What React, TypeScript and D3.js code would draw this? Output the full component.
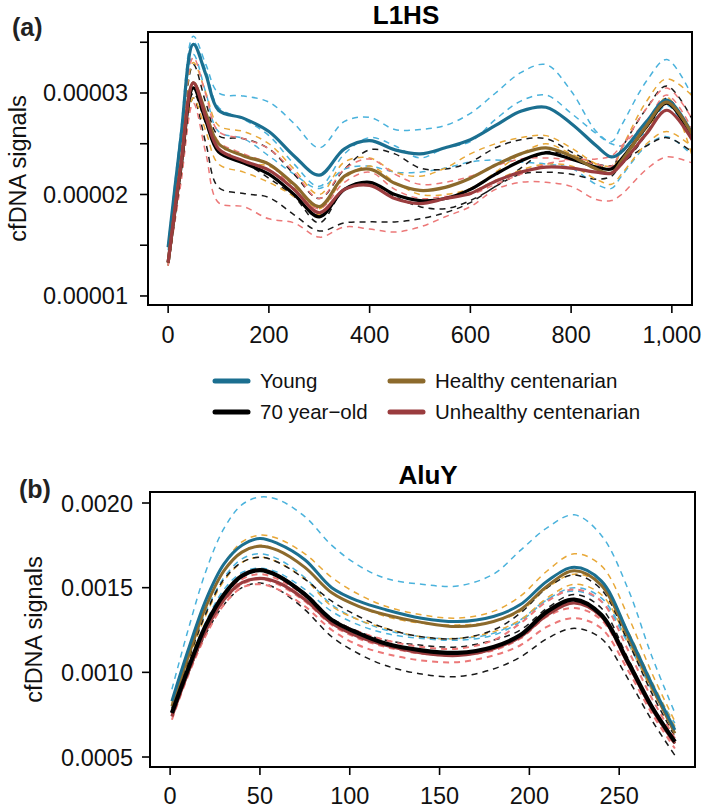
import React from "react";
import * as d3 from "d3";

// ---------- Panel (a) L1HS : values in units of 1e-5 ----------
const XA = [0, 25, 50, 75, 100, 150, 200, 250, 300, 350, 400, 450, 500, 550, 600, 650, 700, 750, 800, 850, 880, 900, 950, 990, 1045];

const youngA = [1.48, 2.55, 3.48, 3.18, 2.83, 2.75, 2.62, 2.38, 2.19, 2.45, 2.53, 2.44, 2.40, 2.46, 2.54, 2.68, 2.82, 2.86, 2.70, 2.48, 2.37, 2.42, 2.72, 2.93, 2.55];
const oldA = [1.33, 2.25, 3.05, 2.72, 2.42, 2.31, 2.20, 2.00, 1.78, 2.05, 2.12, 2.00, 1.94, 1.96, 2.05, 2.20, 2.33, 2.41, 2.35, 2.27, 2.25, 2.35, 2.67, 2.90, 2.52];
const healthyA = [1.33, 2.28, 3.10, 2.80, 2.50, 2.38, 2.30, 2.10, 1.88, 2.18, 2.25, 2.11, 2.04, 2.07, 2.16, 2.29, 2.40, 2.46, 2.38, 2.25, 2.21, 2.33, 2.68, 2.91, 2.55];
const unhealthyA = [1.33, 2.28, 3.10, 2.76, 2.45, 2.33, 2.24, 2.05, 1.82, 2.05, 2.09, 1.96, 1.91, 1.96, 2.01, 2.13, 2.22, 2.27, 2.26, 2.22, 2.21, 2.30, 2.60, 2.83, 2.50];

const youngA_i1 = [1.50, 2.62, 3.56, 3.28, 3.00, 2.97, 2.91, 2.70, 2.46, 2.72, 2.76, 2.64, 2.64, 2.68, 2.80, 3.00, 3.20, 3.28, 3.02, 2.62, 2.52, 2.68, 3.12, 3.33, 2.92];
const youngA_i2 = [1.45, 2.50, 3.38, 3.00, 2.62, 2.55, 2.38, 2.20, 2.06, 2.25, 2.28, 2.22, 2.22, 2.26, 2.32, 2.34, 2.32, 2.30, 2.26, 2.10, 2.06, 2.18, 2.48, 2.57, 2.36];
const youngA_i3 = [1.48, 2.56, 3.50, 3.22, 2.86, 2.74, 2.58, 2.30, 2.08, 2.40, 2.56, 2.48, 2.36, 2.46, 2.52, 2.74, 2.92, 2.98, 2.80, 2.60, 2.50, 2.48, 2.62, 2.88, 2.48];

const oldA_i1 = [1.35, 2.40, 3.28, 2.90, 2.58, 2.55, 2.45, 2.20, 1.96, 2.25, 2.44, 2.40, 2.26, 2.25, 2.32, 2.46, 2.54, 2.55, 2.42, 2.30, 2.26, 2.45, 2.85, 3.07, 2.70];
const oldA_i2 = [1.30, 2.15, 2.95, 2.50, 2.07, 2.01, 1.97, 1.80, 1.64, 1.72, 1.73, 1.73, 1.76, 1.82, 1.92, 2.08, 2.20, 2.22, 2.20, 2.15, 2.18, 2.30, 2.48, 2.56, 2.40];
const oldA_i3 = [1.33, 2.22, 3.00, 2.70, 2.45, 2.32, 2.16, 1.98, 1.72, 2.05, 2.12, 1.98, 1.88, 1.86, 1.94, 2.08, 2.26, 2.42, 2.38, 2.30, 2.28, 2.30, 2.60, 2.95, 2.50];

const healthyA_i1 = [1.35, 2.40, 3.30, 3.00, 2.68, 2.62, 2.50, 2.25, 2.00, 2.32, 2.36, 2.22, 2.18, 2.26, 2.40, 2.50, 2.56, 2.58, 2.46, 2.30, 2.25, 2.45, 2.92, 3.14, 2.95];
const healthyA_i2 = [1.30, 2.18, 2.95, 2.62, 2.30, 2.22, 2.12, 1.98, 1.80, 2.05, 2.10, 2.00, 1.94, 1.96, 2.02, 2.14, 2.24, 2.30, 2.28, 2.15, 2.10, 2.20, 2.50, 2.62, 2.45];
const healthyA_i3 = [1.33, 2.26, 3.05, 2.78, 2.52, 2.30, 2.28, 2.08, 1.86, 2.16, 2.28, 2.12, 2.00, 2.00, 2.06, 2.22, 2.40, 2.50, 2.40, 2.30, 2.28, 2.36, 2.62, 2.96, 2.30];

const unhealthyA_i1 = [1.35, 2.45, 3.35, 2.98, 2.62, 2.55, 2.45, 2.22, 1.96, 2.25, 2.35, 2.20, 2.10, 2.12, 2.18, 2.28, 2.35, 2.36, 2.34, 2.30, 2.28, 2.45, 2.85, 3.05, 2.70];
const unhealthyA_i2 = [1.30, 2.10, 2.90, 2.40, 1.92, 1.88, 1.76, 1.72, 1.58, 1.68, 1.66, 1.63, 1.68, 1.78, 1.88, 2.05, 2.12, 2.12, 2.08, 1.95, 1.94, 2.00, 2.25, 2.37, 2.30];
const unhealthyA_i3 = [1.33, 2.28, 3.10, 2.80, 2.52, 2.40, 2.30, 2.05, 1.86, 2.12, 2.22, 2.05, 1.96, 1.98, 2.00, 2.10, 2.20, 2.30, 2.34, 2.35, 2.38, 2.48, 2.72, 2.98, 2.60];

const xTicksA = [0, 200, 400, 600, 800, 1000];
const xTickLabelsA = ["0", "200", "400", "600", "800", "1,000"];
const yTicksA = [1, 1.5, 2, 2.5, 3, 3.5];
const yTickLabelsA = ["0.00001", "", "0.00002", "", "0.00003", ""];

// ---------- Panel (b) AluY : values in units of 1e-3 ----------
const XB = [1, 10, 20, 30, 40, 50, 60, 75, 90, 105, 120, 140, 160, 180, 195, 210, 225, 240, 255, 268, 281];

const youngB = [0.83, 1.13, 1.43, 1.64, 1.75, 1.79, 1.76, 1.665, 1.50, 1.42, 1.37, 1.32, 1.30, 1.33, 1.40, 1.54, 1.62, 1.54, 1.23, 0.935, 0.66];
const healthyB = [0.80, 1.09, 1.39, 1.60, 1.71, 1.745, 1.72, 1.62, 1.47, 1.39, 1.34, 1.295, 1.27, 1.30, 1.37, 1.51, 1.60, 1.515, 1.21, 0.92, 0.64];
const oldB = [0.76, 1.02, 1.28, 1.46, 1.57, 1.604, 1.57, 1.46, 1.31, 1.23, 1.17, 1.13, 1.115, 1.15, 1.22, 1.36, 1.43, 1.34, 1.06, 0.80, 0.59];
const unhealthyB = [0.74, 1.00, 1.25, 1.43, 1.53, 1.555, 1.53, 1.43, 1.29, 1.21, 1.16, 1.115, 1.10, 1.14, 1.21, 1.34, 1.41, 1.33, 1.05, 0.79, 0.58];

const youngB_i1 = [0.90, 1.25, 1.60, 1.85, 1.99, 2.035, 2.02, 1.92, 1.75, 1.63, 1.555, 1.52, 1.51, 1.58, 1.72, 1.855, 1.93, 1.81, 1.49, 1.10, 0.76];
const youngB_i2 = [0.80, 1.08, 1.36, 1.56, 1.67, 1.70, 1.67, 1.56, 1.40, 1.31, 1.25, 1.21, 1.20, 1.23, 1.31, 1.43, 1.48, 1.42, 1.17, 0.90, 0.68];
const youngB_i3 = [0.78, 1.04, 1.30, 1.49, 1.59, 1.615, 1.59, 1.49, 1.36, 1.28, 1.23, 1.20, 1.19, 1.22, 1.30, 1.43, 1.50, 1.44, 1.18, 0.92, 0.70];

const healthyB_i1 = [0.82, 1.12, 1.42, 1.64, 1.77, 1.81, 1.79, 1.70, 1.56, 1.46, 1.39, 1.34, 1.32, 1.36, 1.45, 1.60, 1.70, 1.63, 1.33, 1.00, 0.71];
const healthyB_i2 = [0.80, 1.09, 1.38, 1.60, 1.71, 1.75, 1.72, 1.62, 1.47, 1.39, 1.33, 1.29, 1.28, 1.30, 1.36, 1.50, 1.58, 1.52, 1.24, 0.95, 0.68];
const healthyB_i3 = [0.78, 1.06, 1.34, 1.54, 1.65, 1.68, 1.65, 1.55, 1.39, 1.31, 1.26, 1.21, 1.20, 1.24, 1.31, 1.44, 1.52, 1.46, 1.18, 0.90, 0.66];

const oldB_i1 = [0.79, 1.07, 1.35, 1.55, 1.65, 1.68, 1.65, 1.55, 1.42, 1.33, 1.26, 1.21, 1.20, 1.25, 1.35, 1.50, 1.575, 1.49, 1.18, 0.88, 0.62];
const oldB_i2 = [0.74, 0.99, 1.23, 1.40, 1.50, 1.527, 1.49, 1.37, 1.21, 1.11, 1.04, 0.99, 0.975, 1.02, 1.09, 1.20, 1.26, 1.20, 0.96, 0.72, 0.51];
const oldB_i3 = [0.76, 1.02, 1.27, 1.45, 1.56, 1.60, 1.57, 1.47, 1.32, 1.24, 1.19, 1.16, 1.15, 1.19, 1.25, 1.38, 1.46, 1.38, 1.08, 0.80, 0.58];

const unhealthyB_i1 = [0.75, 1.01, 1.27, 1.45, 1.55, 1.58, 1.55, 1.45, 1.31, 1.24, 1.19, 1.15, 1.14, 1.19, 1.29, 1.42, 1.49, 1.42, 1.13, 0.85, 0.61];
const unhealthyB_i2 = [0.74, 1.00, 1.25, 1.42, 1.52, 1.55, 1.52, 1.42, 1.28, 1.20, 1.15, 1.11, 1.10, 1.13, 1.20, 1.33, 1.38, 1.31, 1.04, 0.78, 0.57];
const unhealthyB_i3 = [0.72, 0.98, 1.22, 1.40, 1.50, 1.52, 1.49, 1.39, 1.25, 1.16, 1.11, 1.07, 1.06, 1.10, 1.16, 1.27, 1.32, 1.26, 1.01, 0.76, 0.55];

const xTicksB = [0, 50, 100, 150, 200, 250];
const xTickLabelsB = ["0", "50", "100", "150", "200", "250"];
const yTicksB = [0.5, 1.0, 1.5, 2.0];
const yTickLabelsB = ["0.0005", "0.0010", "0.0015", "0.0020"];

const groups = ["Young", "70 year\u2212old", "Healthy centenarian", "Unhealthy centenarian"];

const C = {
  young: "#1b6f90",
  old: "#000000",
  healthy: "#8c6a2c",
  unhealthy: "#9a3c3e",
  youngD: "#4ab2dc",
  oldD: "#1a1a1a",
  healthyD: "#e8a838",
  unhealthyD: "#ec7878",
};

const FONT = "'Liberation Sans', Arial, Helvetica, sans-serif";

type Series = { y: number[]; color: string; w: number; dash?: string };

function Panel(props: {
  id: string;
  xs: number[];
  xDomain: [number, number];
  yDomain: [number, number];
  box: { l: number; t: number; r: number; b: number };
  dashed: Series[];
  solid: Series[];
  xTicks: number[];
  xLabels: string[];
  yTicks: number[];
  yLabels: string[];
  title: string;
  titleX: number;
  titleY: number;
  tag: string;
  tagX: number;
  tagY: number;
  yTitleX: number;
  yLabelX: number;
  xLabelY: number;
}) {
  const { box } = props;
  const x = d3.scaleLinear().domain(props.xDomain).range([box.l, box.r]);
  const y = d3.scaleLinear().domain(props.yDomain).range([box.b, box.t]);
  const line = (vals: number[]) =>
    d3
      .line<number>()
      .x((_, i) => x(props.xs[i]))
      .y((v) => y(v))
      .curve(d3.curveCatmullRom.alpha(0.5))(vals) || "";
  const clip = `clip-${props.id}`;
  return (
    <g>
      <defs>
        <clipPath id={clip}>
          <rect x={box.l} y={box.t} width={box.r - box.l} height={box.b - box.t} />
        </clipPath>
      </defs>
      <g clipPath={`url(#${clip})`}>
        {props.dashed.map((s, i) => (
          <path key={"d" + i} d={line(s.y)} fill="none" stroke={s.color} strokeWidth={s.w} strokeDasharray={s.dash || "6,5"} />
        ))}
        {props.solid.map((s, i) => (
          <path key={"s" + i} d={line(s.y)} fill="none" stroke={s.color} strokeWidth={s.w} strokeLinejoin="round" />
        ))}
      </g>
      <rect x={box.l} y={box.t} width={box.r - box.l} height={box.b - box.t} fill="none" stroke="#000" strokeWidth={2} />
      {props.xTicks.map((t, i) => (
        <g key={"xt" + i}>
          <line x1={x(t)} x2={x(t)} y1={box.b} y2={box.b + 8} stroke="#000" strokeWidth={1.6} />
          <text x={x(t)} y={props.xLabelY} textAnchor="middle" fontSize={23.5} fontFamily={FONT} fill="#111">
            {props.xLabels[i]}
          </text>
        </g>
      ))}
      {props.yTicks.map((t, i) => (
        <g key={"yt" + i}>
          <line x1={box.l - 8} x2={box.l} y1={y(t)} y2={y(t)} stroke="#000" strokeWidth={1.6} />
          {props.yLabels[i] ? (
            <text x={props.yLabelX} y={y(t) + 8.5} textAnchor="end" fontSize={23.5} fontFamily={FONT} fill="#111">
              {props.yLabels[i]}
            </text>
          ) : null}
        </g>
      ))}
      <text
        transform={`translate(${props.yTitleX},${(box.t + box.b) / 2}) rotate(-90)`}
        textAnchor="middle"
        fontSize={23.5}
        fontFamily={FONT}
        fill="#111"
      >
        cfDNA signals
      </text>
      <text x={props.titleX} y={props.titleY} textAnchor="middle" fontSize={26} fontWeight="bold" fontFamily={FONT} fill="#000">
        {props.title}
      </text>
      <text x={props.tagX} y={props.tagY} fontSize={25} fontWeight="bold" fontFamily={FONT} fill="#222">
        {props.tag}
      </text>
    </g>
  );
}

export default function App() {
  const dashedA: Series[] = [
    { y: youngA_i1, color: C.youngD, w: 1.5 },
    { y: youngA_i2, color: C.youngD, w: 1.5 },
    { y: youngA_i3, color: C.youngD, w: 1.5 },
    { y: oldA_i1, color: C.oldD, w: 1.5 },
    { y: oldA_i2, color: C.oldD, w: 1.5 },
    { y: oldA_i3, color: C.oldD, w: 1.5 },
    { y: healthyA_i1, color: C.healthyD, w: 1.5 },
    { y: healthyA_i2, color: C.healthyD, w: 1.5 },
    { y: healthyA_i3, color: C.healthyD, w: 1.5 },
    { y: unhealthyA_i1, color: C.unhealthyD, w: 1.5 },
    { y: unhealthyA_i2, color: C.unhealthyD, w: 1.5 },
    { y: unhealthyA_i3, color: C.unhealthyD, w: 1.5 },
  ];
  const solidA: Series[] = [
    { y: oldA, color: C.old, w: 3.2 },
    { y: youngA, color: C.young, w: 3.2 },
    { y: healthyA, color: C.healthy, w: 3.2 },
    { y: unhealthyA, color: C.unhealthy, w: 3.2 },
  ];
  const dashedB: Series[] = [
    { y: youngB_i1, color: C.youngD, w: 1.5 },
    { y: youngB_i2, color: C.youngD, w: 1.5 },
    { y: youngB_i3, color: C.youngD, w: 1.5 },
    { y: healthyB_i1, color: C.healthyD, w: 1.5 },
    { y: healthyB_i2, color: C.healthyD, w: 1.5 },
    { y: healthyB_i3, color: C.healthyD, w: 1.5 },
    { y: oldB_i1, color: C.oldD, w: 1.5 },
    { y: oldB_i2, color: C.oldD, w: 1.5 },
    { y: oldB_i3, color: C.oldD, w: 1.5 },
    { y: unhealthyB_i1, color: C.unhealthyD, w: 2 },
    { y: unhealthyB_i2, color: C.unhealthyD, w: 2 },
    { y: unhealthyB_i3, color: C.unhealthyD, w: 2 },
  ];
  const solidB: Series[] = [
    { y: unhealthyB, color: C.unhealthy, w: 3.2 },
    { y: healthyB, color: C.healthy, w: 3 },
    { y: youngB, color: C.young, w: 3 },
    { y: oldB, color: C.old, w: 4.2 },
  ];

  const legendItems = [
    { label: groups[0], color: C.young, lx: 215, ly: 381 },
    { label: groups[1], color: C.old, lx: 215, ly: 412 },
    { label: groups[2], color: C.healthy, lx: 390, ly: 381 },
    { label: groups[3], color: C.unhealthy, lx: 390, ly: 412 },
  ];

  return (
    <div style={{ position: "absolute", left: 0, top: 0 }}>
      <svg width={709} height={810} viewBox="0 0 709 810" style={{ display: "block", background: "#fff" }}>
        <rect x={0} y={0} width={709} height={810} fill="#fff" />
        <Panel
          id="a"
          xs={XA}
          xDomain={[-40, 1040]}
          yDomain={[0.911, 3.601]}
          box={{ l: 148, t: 32, r: 692, b: 305 }}
          dashed={dashedA}
          solid={solidA}
          xTicks={xTicksA}
          xLabels={xTickLabelsA}
          yTicks={yTicksA}
          yLabels={yTickLabelsA}
          title="L1HS"
          titleX={406}
          titleY={24}
          tag="(a)"
          tagX={12}
          tagY={36}
          yTitleX={26}
          yLabelX={128}
          xLabelY={343}
        />
        {legendItems.map((it, i) => (
          <g key={"lg" + i}>
            <line x1={it.lx} x2={it.lx + 33} y1={it.ly} y2={it.ly} stroke={it.color} strokeWidth={5} strokeLinecap="round" />
            <text x={it.lx + 45} y={it.ly + 7} fontSize={20.5} fontFamily={FONT} fill="#111">
              {it.label}
            </text>
          </g>
        ))}
        <Panel
          id="b"
          xs={XB}
          xDomain={[-11.2, 292.2]}
          yDomain={[0.441, 2.065]}
          box={{ l: 150, t: 492, r: 695, b: 767 }}
          dashed={dashedB}
          solid={solidB}
          xTicks={xTicksB}
          xLabels={xTickLabelsB}
          yTicks={yTicksB}
          yLabels={yTickLabelsB}
          title="AluY"
          titleX={428}
          titleY={484}
          tag="(b)"
          tagX={19}
          tagY={498}
          yTitleX={42}
          yLabelX={133}
          xLabelY={804}
        />
      </svg>
    </div>
  );
}
